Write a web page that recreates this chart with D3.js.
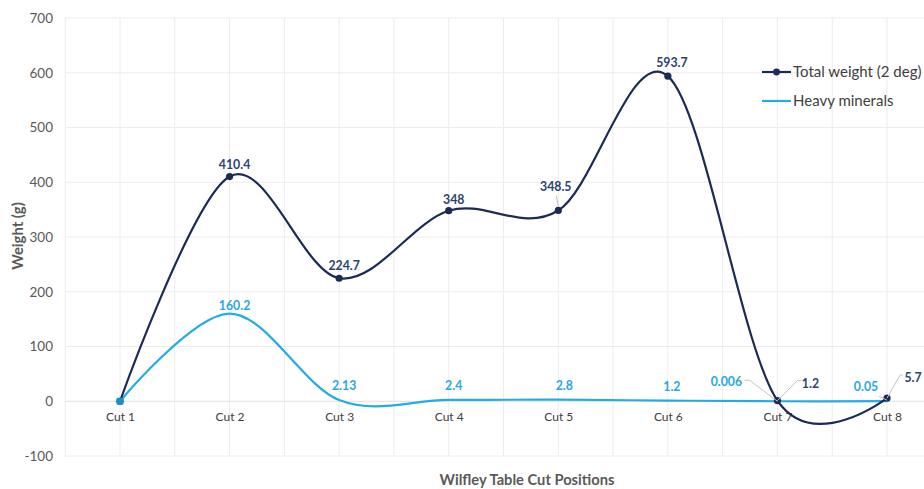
<!DOCTYPE html>
<html>
<head>
<meta charset="utf-8">
<script src="https://cdn.jsdelivr.net/npm/d3@7"></script>
<style>
  html, body { margin: 0; padding: 0; background: #fff; }
  svg { display: block; font-family: Lato, "Open Sans", sans-serif; }
</style>
</head>
<body>
<svg id="chart" width="924" height="489"></svg>
<script>
const categories = ["Cut 1", "Cut 2", "Cut 3", "Cut 4", "Cut 5", "Cut 6", "Cut 7", "Cut 8"];
const totalWeight = [0, 410.4, 224.7, 348, 348.5, 593.7, 1.2, 5.7];
const heavyMinerals = [0, 160.2, 2.13, 2.4, 2.8, 1.2, 0.006, 0.05];
const totalLabels = [null, "410.4", "224.7", "348", "348.5", "593.7", "1.2", "5.7"];
const heavyLabels = [null, "160.2", "2.13", "2.4", "2.8", "1.2", "0.006", "0.05"];
const yTicks = [-100, 0, 100, 200, 300, 400, 500, 600, 700];
const seriesNames = ["Total weight (2 deg)", "Heavy minerals"];

// label placement: [dx, dy] of text anchor from point, optional leader polyline (points relative to data point)
const totalLabelPos = [null,
  {d: [5, -7.5]}, {d: [5, -8]}, {d: [5, -7]},
  {d: [-2.5, -19.5], leader: [[-2, -15], [0, -4]]},
  {d: [4, -9]},
  {d: [33, -13], leader: [[0, 0], [20, -20], [24, -20]]},
  {d: [26, -16], leader: [[0, 0], [13, -23], [16, -23]]}];
const heavyLabelPos = [null,
  {d: [5, -3.5]}, {d: [5, -10]}, {d: [5, -10]}, {d: [6, -10]}, {d: [4, -10]},
  {d: [-51, -15], leader: [[-33, -21], [-28, -21], [0, 0]]},
  {d: [-21, -10], leader: [[-8, -5], [0, -1]]}];

const navy = "#1c2b55";
const navyText = "#2a4470";
const blue = "#23ace4";
const blueText = "#2aa7df";

const svg = d3.select("#chart");
const x = d3.scalePoint().domain(categories).range([120, 887]);
const y = d3.scaleLinear().domain([-100, 700]).range([456, 18]);
const step = x.step();
const left = x(categories[0]) - step / 2;

// grid
const g = svg.append("g");
const vx = [];
categories.forEach(c => { vx.push(x(c) - step / 2); vx.push(x(c)); });
vx.push(x(categories[categories.length - 1]) + step / 2);
g.selectAll(".vg").data(vx).enter().append("line")
  .attr("x1", d => d).attr("x2", d => d)
  .attr("y1", y(700)).attr("y2", y(-100))
  .attr("stroke", "#ececec").attr("stroke-width", 1);
g.selectAll(".hg").data(yTicks).enter().append("line")
  .attr("x1", left).attr("x2", 924)
  .attr("y1", d => y(d)).attr("y2", d => y(d))
  .attr("stroke", d => d === 0 ? "#e0e0e0" : "#ececec").attr("stroke-width", 1);

// y axis
const yAxis = d3.axisLeft(y).tickValues(yTicks).tickFormat(d => String(d)).tickSize(0).tickPadding(0);
const ya = svg.append("g").attr("transform", `translate(53,0)`).call(yAxis);
ya.select(".domain").remove();
ya.selectAll("text").attr("fill", "#595959").attr("font-size", 13.5).attr("font-family", "Lato, sans-serif");

// x axis labels
const xAxis = d3.axisBottom(x).tickSize(0).tickPadding(0);
const xa = svg.append("g").attr("transform", `translate(0,412)`).call(xAxis);
xa.select(".domain").remove();
xa.selectAll("text").attr("fill", "#404040").attr("font-size", 12).attr("font-family", "Lato, sans-serif");

// axis titles
svg.append("text").attr("transform", `translate(23,${y(300) - 1}) rotate(-90)`)
  .attr("text-anchor", "middle").attr("font-size", 14.8).attr("font-weight", "bold")
  .attr("fill", "#595959").text("Weight (g)");
svg.append("text").attr("x", 527).attr("y", 485)
  .attr("text-anchor", "middle").attr("font-size", 14.7).attr("font-weight", "bold")
  .attr("fill", "#595959").text("Wilfley Table Cut Positions");

// lines
const line = d3.line().x((d, i) => x(categories[i])).y(d => y(d)).curve(d3.curveCardinal.tension(0));
svg.append("path").datum(heavyMinerals).attr("d", line)
  .attr("fill", "none").attr("stroke", blue).attr("stroke-width", 2.2);
svg.append("path").datum(totalWeight).attr("d", line)
  .attr("fill", "none").attr("stroke", navy).attr("stroke-width", 2.2);

// markers
svg.selectAll(".tm").data(totalWeight).enter().append("circle")
  .attr("cx", (d, i) => x(categories[i])).attr("cy", d => y(d)).attr("r", 3.6)
  .attr("fill", navy);
svg.append("rect").attr("x", x(categories[0]) - 3.5).attr("y", y(heavyMinerals[0]) - 3.5)
  .attr("width", 7).attr("height", 7).attr("rx", 1.5).attr("fill", "#1a8fd0");

// data labels
function drawLabels(vals, labels, pos, color) {
  vals.forEach((v, i) => {
    if (!labels[i]) return;
    const px = x(categories[i]), py = y(v);
    const p = pos[i];
    if (p.leader) {
      svg.append("polyline")
        .attr("points", p.leader.map(q => `${px + q[0]},${py + q[1]}`).join(" "))
        .attr("fill", "none").attr("stroke", "#c4c4c4").attr("stroke-width", 1);
    }
    svg.append("text").attr("x", px + p.d[0]).attr("y", py + p.d[1])
      .attr("text-anchor", "middle").attr("font-size", 12.3).attr("font-weight", "bold")
      .attr("fill", color).text(labels[i]);
  });
}
drawLabels(totalWeight, totalLabels, totalLabelPos, navyText);
drawLabels(heavyMinerals, heavyLabels, heavyLabelPos, blueText);

// legend
const legend = svg.append("g");
const ly0 = [72, 101];
legend.append("line").attr("x1", 762).attr("x2", 791).attr("y1", ly0[0]).attr("y2", ly0[0])
  .attr("stroke", navy).attr("stroke-width", 2.2);
legend.append("circle").attr("cx", 776.5).attr("cy", ly0[0]).attr("r", 3.4).attr("fill", navy);
legend.append("line").attr("x1", 762).attr("x2", 791).attr("y1", ly0[1]).attr("y2", ly0[1])
  .attr("stroke", blue).attr("stroke-width", 2.2);
seriesNames.forEach((n, i) => {
  legend.append("text").attr("x", 793).attr("y", ly0[i] + 5)
    .attr("font-size", 15).attr("fill", "#404040").text(n);
});
</script>
</body>
</html>
